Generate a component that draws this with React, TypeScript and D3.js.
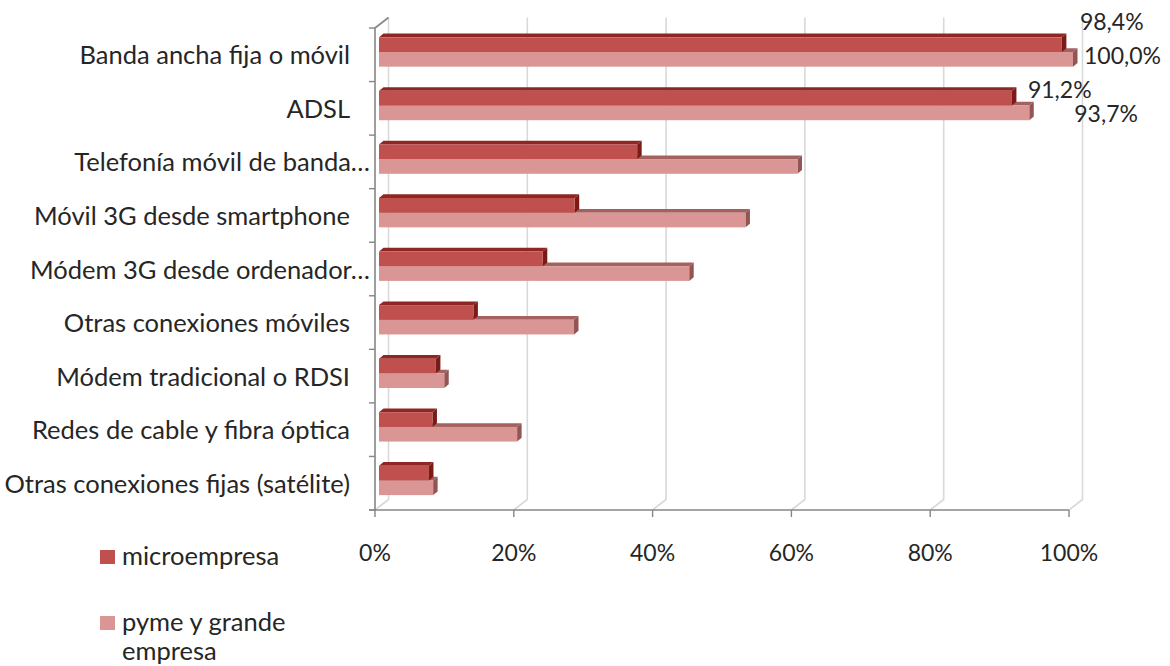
import React, { useEffect, useRef } from "react";
import * as d3 from "d3";

const categories = [
  "Banda ancha fija o móvil",
  "ADSL",
  "Telefonía móvil de banda…",
  "Móvil 3G desde smartphone",
  "Módem 3G desde ordenador…",
  "Otras conexiones móviles",
  "Módem tradicional o RDSI",
  "Redes de cable y fibra óptica",
  "Otras conexiones fijas (satélite)",
];
const microValues = [98.4, 91.2, 37.2, 28.2, 23.6, 13.6, 8.2, 7.7, 7.2];
const pymeValues = [100.0, 93.7, 60.3, 52.8, 44.7, 28.1, 9.4, 19.9, 7.8];
const seriesNames = ["microempresa", "pyme y grande empresa"];
const xTicks = [0, 20, 40, 60, 80, 100];
// only the first two categories carry data labels in the original
const labelledRows = 2;

const W = 1170;
const H = 666;
const FONT = "Lato, 'Open Sans', sans-serif";
const TEXT = "#262626";
const AXIS = "#868686";
const GRID = "#D9D9D9";
const WORD_SIZE = 25.5;
const NUM_SIZE = 23;

const colors = [
  { front: "#C0504D", top: "#8E2724", side: "#7A1B18" },
  { front: "#D99694", top: "#A3625F", side: "#925553" },
];

const App = () => {
  const svgRef = useRef<SVGSVGElement>(null);

  useEffect(() => {
    const svg = d3.select(svgRef.current);
    svg.selectAll("*").remove();

    const left = 375;
    const right = 1069;
    const top = 28;
    const bottom = 510;
    const depth = { dx: 13.5, dy: -10.5 }; // floor / wall depth
    const barDepth = { dx: 4.5, dy: -3.7 }; // thickness of each bar

    const x = d3.scaleLinear().domain([0, 100]).range([left, right]);
    const y = d3.scaleBand<string>().domain(categories).range([top, bottom]);
    const band = y.bandwidth();
    const barX = (v: number) => x(v) + 4;
    const inner = d3
      .scaleBand<number>()
      .domain([0, 1])
      .range([band * 0.174, band * 0.722]);

    // back wall gridlines + floor slants
    const grid = svg.append("g");
    xTicks.forEach((t) => {
      const gx = x(t) + depth.dx;
      grid
        .append("path")
        .attr("d", `M${gx},${top + depth.dy} L${gx},${bottom + depth.dy} L${x(t)},${bottom}`)
        .attr("fill", "none")
        .attr("stroke", GRID)
        .attr("stroke-width", 1.6);
    });

    // left axis
    const ax = svg.append("g");
    ax.append("path")
      .attr("d", `M${left + depth.dx},${top + depth.dy} L${left},${top} L${left},${bottom + 1}`)
      .attr("fill", "none")
      .attr("stroke", AXIS)
      .attr("stroke-width", 1.6);
    const boundaries = categories.map((c) => y(c)!).concat([bottom]);
    ax.selectAll("line.ctick")
      .data(boundaries)
      .enter()
      .append("line")
      .attr("x1", left - 6)
      .attr("x2", left)
      .attr("y1", (d) => d)
      .attr("y2", (d) => d)
      .attr("stroke", AXIS)
      .attr("stroke-width", 1.4);

    // bottom axis
    ax.append("line")
      .attr("x1", left - 6)
      .attr("x2", right)
      .attr("y1", bottom)
      .attr("y2", bottom)
      .attr("stroke", AXIS)
      .attr("stroke-width", 1.6);
    ax.selectAll("line.xtick")
      .data(xTicks)
      .enter()
      .append("line")
      .attr("x1", (d) => x(d))
      .attr("x2", (d) => x(d))
      .attr("y1", bottom)
      .attr("y2", bottom + 7)
      .attr("stroke", AXIS)
      .attr("stroke-width", 1.4);
    ax.selectAll("text.xlab")
      .data(xTicks)
      .enter()
      .append("text")
      .attr("x", (d) => x(d))
      .attr("y", 561)
      .attr("text-anchor", "middle")
      .attr("font-family", FONT)
      .attr("font-size", NUM_SIZE)
      .attr("fill", TEXT)
      .text((d) => `${d}%`);

    // category labels
    svg
      .append("g")
      .selectAll("text")
      .data(categories)
      .enter()
      .append("text")
      .attr("x", (d) => (d.endsWith("…") ? 370 : 350))
      .attr("y", (d) => y(d)! + band / 2 + 9.5)
      .attr("text-anchor", "end")
      .attr("font-family", FONT)
      .attr("font-size", WORD_SIZE)
      .attr("fill", TEXT)
      .text((d) => d);

    // 3D bars
    const bars = svg.append("g");
    const drawBar = (v: number, y0: number, h: number, c: typeof colors[0]) => {
      const x0 = barX(0);
      const x1 = barX(v);
      const { dx, dy } = barDepth;
      bars
        .append("path")
        .attr("d", `M${x0},${y0} L${x0 + dx},${y0 + dy} L${x1 + dx},${y0 + dy} L${x1},${y0} Z`)
        .attr("fill", c.top);
      bars
        .append("path")
        .attr("d", `M${x1},${y0} L${x1 + dx},${y0 + dy} L${x1 + dx},${y0 + h + dy} L${x1},${y0 + h} Z`)
        .attr("fill", c.side);
      bars
        .append("rect")
        .attr("x", x0)
        .attr("y", y0)
        .attr("width", x1 - x0)
        .attr("height", h)
        .attr("fill", c.front);
    };
    categories.forEach((cat, i) => {
      const base = y(cat)!;
      drawBar(pymeValues[i], base + inner(1)!, inner.bandwidth(), colors[1]);
      drawBar(microValues[i], base + inner(0)!, inner.bandwidth(), colors[0]);
    });

    // data labels (hand placed in the original, nudged here)
    const fmt = (v: number) => `${v.toFixed(1).replace(".", ",")}%`;
    const nudges = [
      [
        [18, -7],
        [11, 12],
      ],
      [
        [16, 7],
        [45, 16],
      ],
    ];
    const labels = svg.append("g");
    for (let i = 0; i < labelledRows; i++) {
      const base = y(categories[i])!;
      [microValues[i], pymeValues[i]].forEach((v, s) => {
        const [ndx, ndy] = nudges[i][s];
        const by = base + inner(s as 0 | 1)!;
        labels
          .append("text")
          .attr("x", barX(v) + ndx)
          .attr("y", by + ndy)
          .attr("font-family", FONT)
          .attr("font-size", NUM_SIZE)
          .attr("fill", TEXT)
          .text(fmt(v));
      });
    }

    // legend
    const legend = svg.append("g").attr("transform", "translate(100,550)");
    seriesNames.forEach((name, i) => {
      const g = legend.append("g").attr("transform", `translate(0,${i * 66})`);
      g.append("rect").attr("width", 15).attr("height", 14).attr("fill", colors[i].front);
      const words = i === 0 ? [name] : ["pyme y grande", "empresa"];
      const t = g
        .append("text")
        .attr("font-family", FONT)
        .attr("font-size", WORD_SIZE)
        .attr("fill", TEXT);
      words.forEach((w, k) => {
        t.append("tspan").attr("x", 22).attr("y", 15 + k * 29).text(w);
      });
    });
  }, []);

  return (
    <div style={{ position: "absolute", left: 0, top: 0 }}>
      <svg ref={svgRef} width={W} height={H} style={{ display: "block", background: "#fff" }} />
    </div>
  );
};

export default App;
